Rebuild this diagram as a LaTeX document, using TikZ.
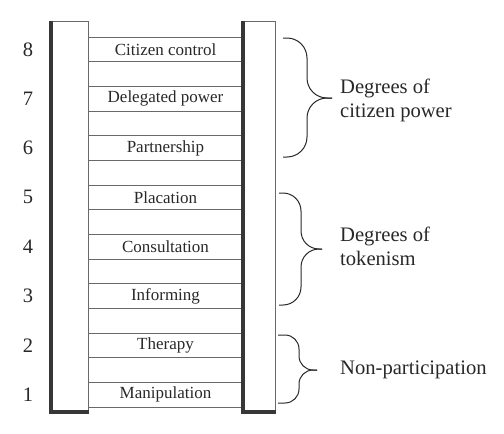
\documentclass[tikz,border=0pt]{standalone}
\usepackage{fontspec}
\setmainfont{Liberation Serif}
\usepackage{tikz}
\usetikzlibrary{positioning}
\definecolor{inkgray}{RGB}{40,40,40}
\definecolor{rulegray}{RGB}{105,105,105}
\definecolor{shadegray}{RGB}{55,55,55}
\tikzset{
  rungbox/.style={rectangle, draw=rulegray, line width=0.9pt, minimum width=155pt,
    minimum height=24.67pt, inner sep=0pt, text=inkgray,
    font=\fontsize{17}{20}\selectfont},
  levelnum/.style={inner sep=0pt, text=inkgray, font=\fontsize{20.5}{24}\selectfont},
  grouplabel/.style={align=left, anchor=west, inner sep=0pt, text=inkgray,
    font=\fontsize{20.6}{24}\selectfont},
  rail/.style={rectangle, draw=rulegray, line width=0.8pt, fill=white,
    anchor=north west, minimum height=390pt, inner sep=0pt},
  railshade/.style={draw=shadegray, line width=3.5pt},
  bracepen/.style={draw=inkgray, line width=1pt, rounded corners=#1},
}

\begin{document}
\begin{tikzpicture}[x=1pt, y=-1pt]
  \useasboundingbox (0,0) rectangle (504,434);

  % Rungs of the ladder
  \foreach \lbl [count=\i] in {Citizen control, Delegated power, Partnership,
      Placation, Consultation, Informing, Therapy, Manipulation} {
    \pgfmathtruncatemacro{\lvl}{9-\i}
    \node[rungbox] (rung\lvl) at (165.5, {49.33*\i}) {\lbl};
    \node[levelnum] (num\lvl) at (28, {49.33*\i}) {\lvl};
  }

  % Rails
  \node[rail, minimum width=37pt] (leftrail) at (51,21) {};
  \node[rail, minimum width=32pt] (rightrail) at (243,21) {};
  \draw[railshade] (leftrail.north west) -- (leftrail.south west) -- (leftrail.south east);
  \draw[railshade] (rightrail.north west) -- (rightrail.south west) -- (rightrail.south east);

  % Groups
  \node[grouplabel] (power) at (340,100) {Degrees of\\citizen power};
  \node[grouplabel] (token) at (340,246.5) {Degrees of\\tokenism};
  \node[grouplabel] (nonpart) at (340,370) {Non-participation};

  \draw[bracepen=20pt] (283,38) -- (307,38) -- (307,98) -- (332,98);
  \draw[bracepen=20pt] (283,157) -- (307,157) -- (307,98) -- (332,98);
  \draw[bracepen=18pt] (279,193) -- (301,193) -- (301,249) -- (322,249);
  \draw[bracepen=18pt] (279,305) -- (301,305) -- (301,249) -- (322,249);
  \draw[bracepen=14pt] (278,335) -- (299,335) -- (299,370) -- (317,370);
  \draw[bracepen=14pt] (278,403) -- (299,403) -- (299,370) -- (317,370);
\end{tikzpicture}
\end{document}
